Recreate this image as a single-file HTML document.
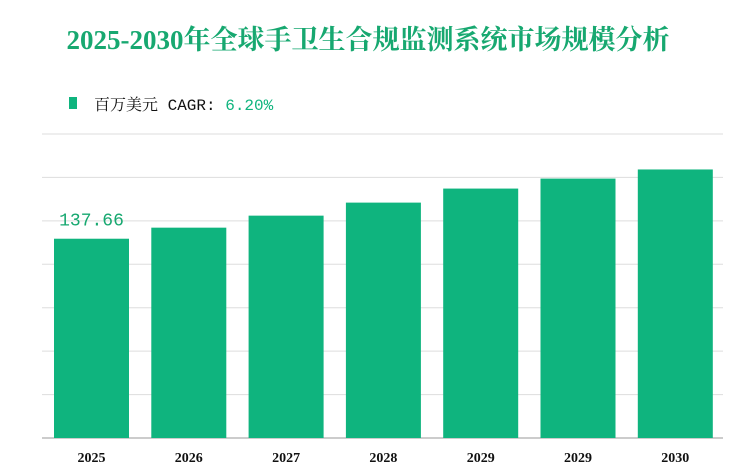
<!DOCTYPE html>
<html><head><meta charset="utf-8"><style>
body{margin:0;background:#fff;width:738px;height:476px;overflow:hidden}
svg{display:block}
</style></head><body>
<svg id="chart" width="738" height="476">
<text x="368" y="49" text-anchor="middle" font-family="Liberation Serif, 'Noto Serif CJK SC', serif" font-weight="bold" font-size="27" fill="#17a870">2025-2030年全球手卫生合规监测系统市场规模分析</text>
<rect x="69" y="97" width="8" height="12" fill="#0fb47e"/>
<text x="94" y="110" font-family="Liberation Mono, 'Noto Serif CJK SC', monospace" font-size="16" fill="#111">百万美元 CAGR: <tspan fill="#0fb47e">6.20%</tspan></text>
<g id="grid"></g><g id="bars"></g><g id="labels"></g>
</svg>
<script>
const categories=["2025","2026","2027","2028","2029","2029","2030"];
const values=[137.66,145.3,153.6,162.6,172.3,179.2,185.5];
const ticks=[0,30,60,90,120,150,180,210];
const ns="http://www.w3.org/2000/svg";
const y0=438,yMax=210,plotH=304,x0=42,x1=723,pitch=97.3,barW=75,firstX=54;
const y=v=>y0-v/yMax*plotH;
const x=i=>firstX+i*pitch;
function mk(t,a){const e=document.createElementNS(ns,t);for(const k in a)e.setAttribute(k,a[k]);return e;}
ticks.forEach(t=>{
 const l=mk('line',{x1:x0,x2:x1,y1:y(t),y2:y(t),stroke:t===0?'#999':'#ddd','stroke-width':1});
 
 
 document.getElementById('grid').appendChild(l);
});
values.forEach((v,i)=>{
 const r=mk('rect',{x:x(i),y:y(v),width:barW,height:y0-y(v),fill:'#0fb47e'});
 
 
 document.getElementById('bars').appendChild(r);
 const t=mk('text',{x:x(i)+barW/2,y:462,'text-anchor':'middle','font-family':'Liberation Serif, serif','font-weight':'bold','font-size':14,fill:'#111'});
 t.textContent=categories[i];
 
 
 document.getElementById('labels').appendChild(t);
});
const vl=mk('text',{x:x(0)+barW/2,y:y(values[0])-13,'text-anchor':'middle','font-family':'Liberation Mono, monospace','font-size':18,fill:'#17a870'});
vl.textContent=values[0].toFixed(2);


document.getElementById('labels').appendChild(vl);
</script>
</body></html>
